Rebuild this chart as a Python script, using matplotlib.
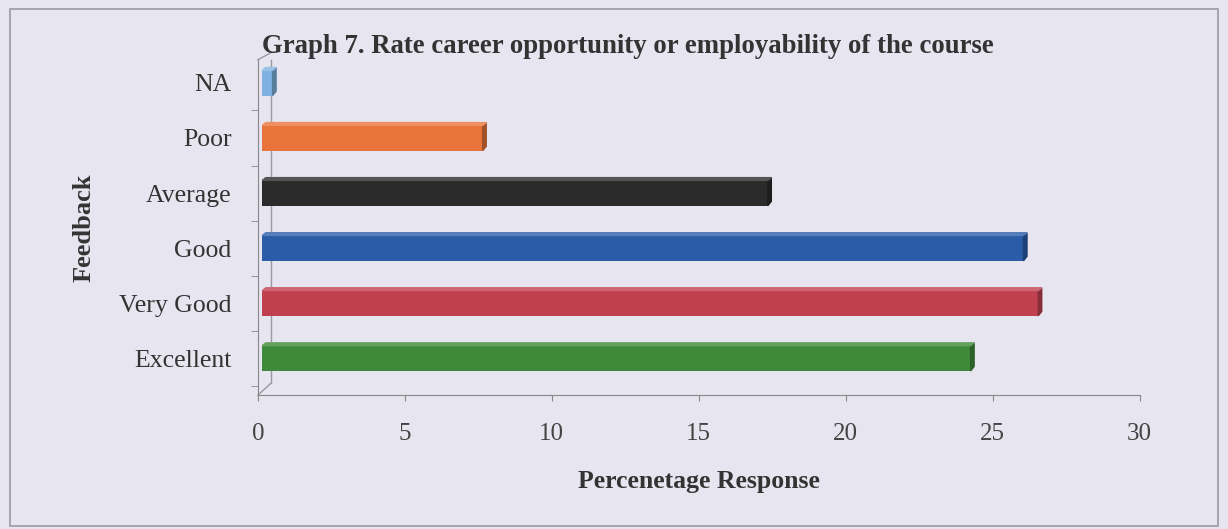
import matplotlib
matplotlib.use("Agg")
import matplotlib.pyplot as plt
from matplotlib.patches import Polygon, Rectangle
import numpy as np

categories = ["Excellent", "Very Good", "Good", "Average", "Poor", "NA"]
values = [24.1, 26.4, 25.9, 17.2, 7.5, 0.35]
colors = ["#3f8a3a", "#c0404f", "#2a5ca8", "#2b2b2b", "#e8743b", "#7fb2e0"]
xticks = [0, 5, 10, 15, 20, 25, 30]

bg = "#e7e5ef"
plt.rcParams['font.family'] = ['Liberation Serif', 'DejaVu Serif']

fig = plt.figure(figsize=(12.28, 5.29), dpi=100, facecolor=bg)
fig.patches.append(Rectangle((0.008, 0.006), 0.984, 0.977, transform=fig.transFigure,
                             fill=False, edgecolor="#9a9aa2", linewidth=1.2))

ax = fig.add_axes([0.210, 0.253, 0.718, 0.634], facecolor=bg)
y = np.arange(len(categories))
h = 0.46
ax.barh(y, values, height=h, color=colors, edgecolor="none", left=0.15, zorder=3)


def shade(c, f):
    r, g, b = matplotlib.colors.to_rgb(c)
    if f >= 1:
        return (r + (1 - r) * (f - 1), g + (1 - g) * (f - 1), b + (1 - b) * (f - 1))
    return (r * f, g * f, b * f)


for yi, v, c in zip(y, values, colors):
    x0 = 0.15
    x1 = x0 + v
    top = yi + h / 2
    bot = yi - h / 2
    ax.add_patch(Polygon([[x1, bot], [x1 + 0.12, bot + 0.08], [x1 + 0.12, top + 0.05],
                          [x1, top]], closed=True, color=shade(c, 0.7), zorder=3))
    ax.add_patch(Polygon([[x0, top], [x1, top], [x1 + 0.12, top + 0.05], [x0 + 0.12, top + 0.05]],
                         closed=True, color=shade(c, 1.2), zorder=3, clip_on=False))

ax.set_xlim(0, 30)
ax.set_ylim(-0.67, 5.42)
ax.set_xticks(xticks)
ax.set_yticks(y)
ax.set_yticklabels(categories)
ax.set_yticks(np.arange(-0.5, 5.5, 1.0), minor=True)
ax.tick_params(axis='y', which='major', length=0, pad=19, labelsize=18.5, colors="#333333")
ax.tick_params(axis='y', which='minor', length=5, direction='out', color="#888888")
ax.tick_params(axis='x', length=4, direction='out', color="#888888", pad=16, labelsize=18,
               labelcolor="#444444")
for s in ["top", "right"]:
    ax.spines[s].set_visible(False)
ax.spines["left"].set_color("#888888")
ax.spines["bottom"].set_color("#888888")

ax.plot([0.45, 0.45], [-0.45, 5.42], color="#9a9aa2", lw=1.0, clip_on=False, zorder=2)
ax.plot([0, 0.45], [-0.67, -0.45], color="#9a9aa2", lw=1.0, clip_on=False, zorder=2)
ax.plot([0, 0.45], [5.42, 5.55], color="#9a9aa2", lw=1.0, clip_on=False, zorder=2)

ax.set_xlabel("Percenetage Response", fontsize=18.5, fontweight='bold', color="#333333", labelpad=18)
ax.set_ylabel("Feedback", fontsize=19, fontweight='bold', color="#333333", labelpad=17)
fig.text(0.213, 0.912, "Graph 7. Rate career opportunity or employability of the course",
         fontsize=19.3, fontweight='bold', color="#333333", ha='left', va='center')

fig.savefig("out.png", dpi=100, facecolor=bg)
